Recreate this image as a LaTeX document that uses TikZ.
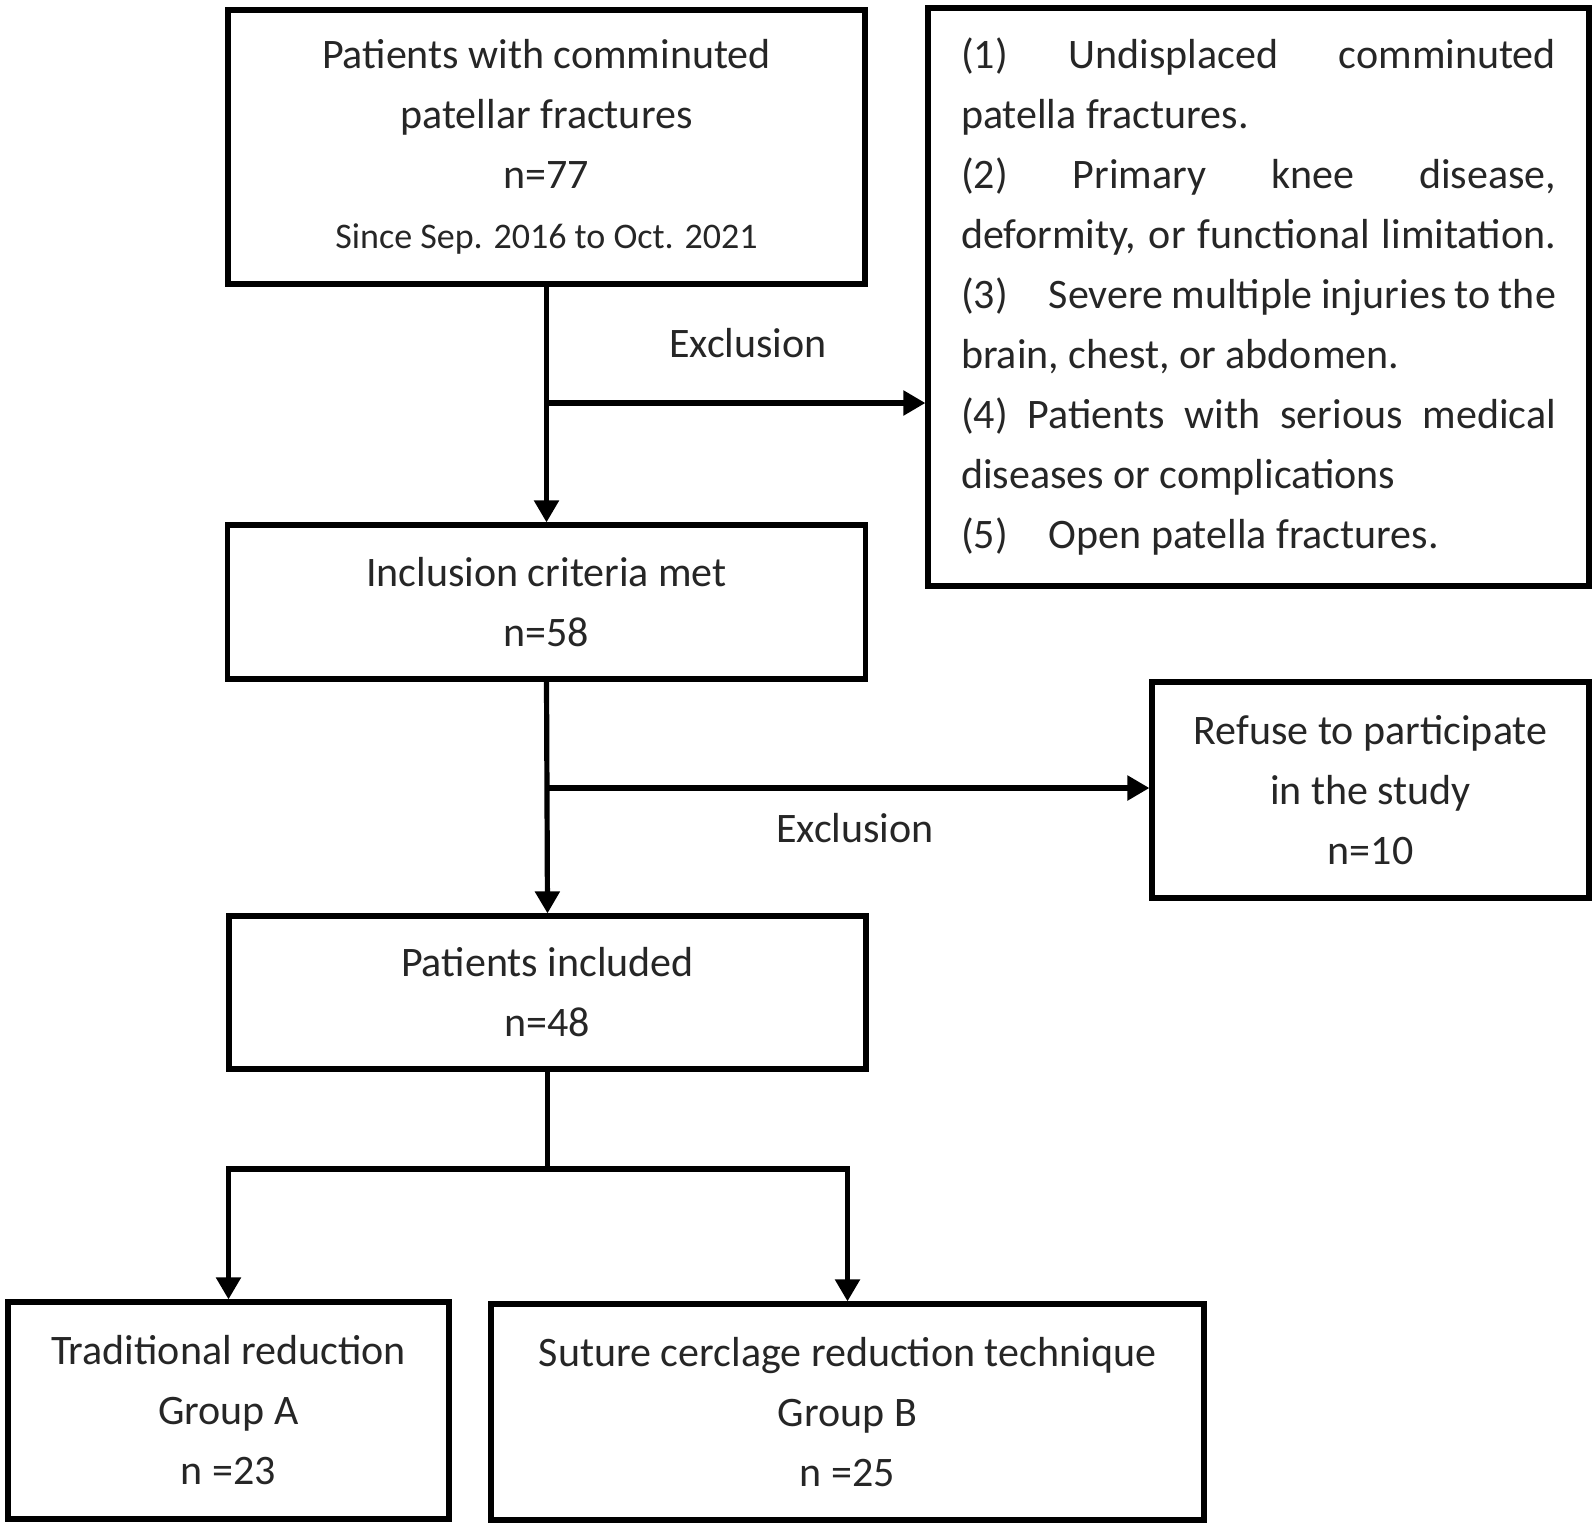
\documentclass[tikz,border=0pt]{standalone}
\usepackage{fontspec}
\setmainfont{Carlito}
\usetikzlibrary{arrows.meta}
\begin{document}
\begin{tikzpicture}[x=0.5pt,y=-0.5pt,
  box/.style={draw, line width=2.6pt, inner sep=0pt, align=center, text=black!85,
    font=\fontsize{21}{30}\selectfont},
  conn/.style={line width=2.6pt, line join=miter},
  arr/.style={conn, -{Triangle[length=11pt,width=12pt]}},
  lbl/.style={text=black!85, font=\fontsize{21}{30}\selectfont, inner sep=0pt}]
\useasboundingbox[fill=white] (0,0) rectangle (1594,1528);

\node[box, minimum width=318.5pt, minimum height=137pt] (b1) at (546.5,147)
  {Patients with comminuted\\patellar fractures\\n=77\\{\fontsize{18}{30}\selectfont Since Sep. 2016 to Oct. 2021}};

\node[box, minimum width=330.5pt, minimum height=289pt] (excl) at (1258.5,297)
  {\makebox[297.5pt][s]{(1) Undisplaced comminuted}\\
   \makebox[297.5pt][l]{patella fractures.}\\
   \makebox[297.5pt][s]{(2) Primary knee disease,}\\
   \makebox[297.5pt][s]{deformity, or functional limitation.}\\
   \makebox[297.5pt][s]{(3)\hspace{20.5pt}Severe multiple injuries to the}\\
   \makebox[297.5pt][l]{brain, chest, or abdomen.}\\
   \makebox[297.5pt][s]{(4) Patients with serious medical}\\
   \makebox[297.5pt][l]{diseases or complications}\\
   \makebox[297.5pt][l]{(5)\hspace{20.5pt}Open patella fractures.}};

\node[box, minimum width=319pt, minimum height=77pt] (b2) at (546.5,602)
  {Inclusion criteria met\\n=58};

\node[box, minimum width=218.5pt, minimum height=108pt] (refuse) at (1370.5,790)
  {Refuse to participate\\in the study\\n=10};

\node[box, minimum width=318.5pt, minimum height=76.5pt] (b3) at (547.5,992.5)
  {Patients included\\n=48};

\node[box, minimum width=220.5pt, minimum height=108.5pt] (ga) at (228.5,1410.5)
  {Traditional reduction\\Group A\\n =23};

\node[box, minimum width=356.5pt, minimum height=108pt] (gb) at (847.5,1412)
  {Suture cerclage reduction technique\\Group B\\n =25};

\coordinate (j1) at (546.5,403);
\coordinate (j2) at (546.5,788);
\coordinate (j3) at (547.5,1169);

\draw[arr] (b1.south) -- (b2.north);
\draw[arr] (j1) -- (excl.west |- j1);
\node[lbl] (ex1) at (748,343) {Exclusion};

\draw[arr] (b2.south) -- (b3.north);
\draw[arr] (j2) -- (refuse.west |- j2);
\node[lbl] (ex2) at (855,828) {Exclusion};

\draw[conn] (b3.south) -- (j3);
\draw[arr] (j3) -| (ga.north);
\draw[arr] (j3) -| (gb.north);
\end{tikzpicture}
\end{document}
